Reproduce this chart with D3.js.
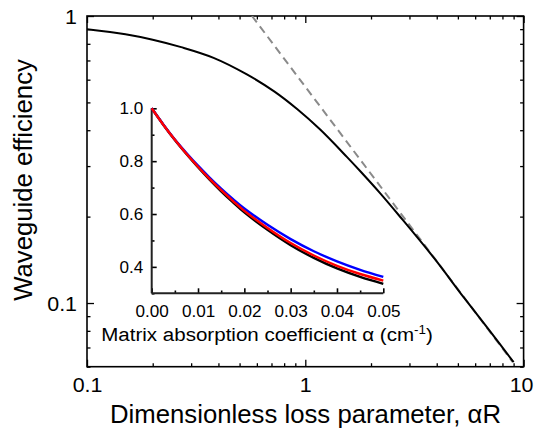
<!DOCTYPE html>
<html><head><meta charset="utf-8">
<script src="https://cdn.jsdelivr.net/npm/d3@7"></script>
<style>
html,body{margin:0;padding:0;background:#fff;}
svg{display:block;}
text{font-family:"Liberation Sans",Arial,sans-serif;fill:#000;}
</style></head>
<body>
<script>
// ---- Data ----
const mainX = [0.1, 0.15, 0.2, 0.27, 0.38, 0.54, 0.72, 0.92, 1.17, 1.55, 1.8, 2.2, 2.7, 3.9, 5.3, 7, 9];
const mainY = [0.90, 0.864, 0.827, 0.779, 0.715, 0.626, 0.546, 0.473, 0.402, 0.323, 0.286, 0.2415, 0.201, 0.143, 0.105, 0.080, 0.0622];
const asymX = [0.57, 8.9];
const asymY = [1.0, 0.0624];

const insetX = [0, 0.0025, 0.005, 0.0075, 0.01, 0.0125, 0.015, 0.0175, 0.02, 0.025, 0.03, 0.035, 0.04, 0.045, 0.05];
const insetBlack = [1.0, 0.938, 0.880, 0.827, 0.777, 0.730, 0.686, 0.645, 0.606, 0.540, 0.482, 0.434, 0.394, 0.362, 0.336];
const insetRed   = [1.0, 0.938, 0.881, 0.828, 0.779, 0.733, 0.690, 0.650, 0.612, 0.547, 0.490, 0.443, 0.404, 0.373, 0.348];
const insetBlue  = [1.0, 0.939, 0.882, 0.831, 0.783, 0.738, 0.696, 0.657, 0.621, 0.559, 0.505, 0.459, 0.421, 0.389, 0.362];

const xMajor = [0.1, 1, 10];
const xMinor = [0.2,0.3,0.4,0.5,0.6,0.7,0.8,0.9,2,3,4,5,6,7,8,9];
const yMajor = [0.1, 1];
const yMinor = [0.06,0.07,0.08,0.09,0.2,0.3,0.4,0.5,0.6,0.7,0.8,0.9];
const insetXMajor = [0, 0.01, 0.02, 0.03, 0.04, 0.05];
const insetXMinor = [0.005, 0.015, 0.025, 0.035, 0.045];
const insetYMajor = [0.4, 0.6, 0.8, 1.0];
const insetYMinor = [0.3, 0.5, 0.7, 0.9];

const xTitle = "Dimensionless loss parameter, \u03B1R";
const yTitle = "Waveguide efficiency";
const insetTitle = "Matrix absorption coefficient \u03B1 (cm";

// ---- Layout ----
const W = 534, H = 432;
const L = 87, R = 523.6, T = 16, B = 366.7;
const iL = 151.7, iR = 383.3, iT = 108.3, iB = 293.3;
const SX = 1.07;   // horizontal glyph stretch for tick labels
const SXT = 1.03;  // for titles

const svg = d3.select("body").append("svg").attr("width", W).attr("height", H);
svg.append("rect").attr("width", W).attr("height", H).attr("fill", "#fff");

const x = d3.scaleLog().domain([0.1, 10]).range([L, R]);
const y = d3.scaleLog().domain([0.06, 1]).range([B, T]);
const ix = d3.scaleLinear().domain([0, 0.05]).range([iL, iR]);
const iy = d3.scaleLinear().domain([0.3, 1.0]).range([iB, iT]);

function styleAxis(g, sw) {
  g.select(".domain").remove();
  g.selectAll(".tick line").attr("stroke", "#000").attr("stroke-width", sw);
}

const majLen = 7, minLen = 3.5;
function addAxis(axisFn, scale, vals, len, translate, fmt) {
  const a = axisFn(scale).tickValues(vals).tickSizeInner(-len).tickSizeOuter(0).tickFormat(fmt || "");
  const g = svg.append("g").attr("transform", translate).call(a);
  styleAxis(g, 1.3);
  return g;
}
const gxb = addAxis(d3.axisBottom, x, xMajor, majLen, `translate(0,${B})`, d => d >= 1 ? d3.format("d")(d) : d3.format(".1f")(d));
addAxis(d3.axisBottom, x, xMinor, minLen, `translate(0,${B})`);
addAxis(d3.axisTop, x, xMajor, majLen, `translate(0,${T})`);
addAxis(d3.axisTop, x, xMinor, minLen, `translate(0,${T})`);
const gyl = addAxis(d3.axisLeft, y, yMajor, majLen, `translate(${L},0)`, d => d >= 1 ? "1" : "0.1");
addAxis(d3.axisLeft, y, yMinor, minLen, `translate(${L},0)`);
addAxis(d3.axisRight, y, yMajor, majLen, `translate(${R},0)`);
addAxis(d3.axisRight, y, yMinor, minLen, `translate(${R},0)`);

gxb.selectAll("text").attr("font-size", 20).attr("y", 0).attr("dy", null)
  .attr("transform", d => `translate(${d >= 10 ? -2.5 : 0},25) scale(${SX},1)`).attr("font-family", null);
gyl.selectAll("text").attr("font-size", 20).attr("x", 0).attr("dy", "0.35em")
  .attr("transform", `translate(-10,0) scale(${SX},1)`).attr("font-family", null);

// frame
svg.append("rect").attr("x", L).attr("y", T).attr("width", R - L).attr("height", B - T)
  .attr("fill", "none").attr("stroke", "#000").attr("stroke-width", 1.6);

svg.append("clipPath").attr("id", "clipMain").append("rect")
  .attr("x", L).attr("y", T).attr("width", R - L).attr("height", B - T);
const plot = svg.append("g").attr("clip-path", "url(#clipMain)");

// asymptote dashed line
plot.append("path")
  .datum(asymX.map((v, i) => [v, asymY[i]]))
  .attr("d", d3.line().x(d => x(d[0])).y(d => y(d[1])))
  .attr("fill", "none").attr("stroke", "#8a8a8a").attr("stroke-width", 2)
  .attr("stroke-dasharray", "8,5");

// main curve
plot.append("path")
  .datum(mainX.map((v, i) => [v, mainY[i]]))
  .attr("d", d3.line().x(d => x(d[0])).y(d => y(d[1])).curve(d3.curveCatmullRom))
  .attr("fill", "none").attr("stroke", "#000").attr("stroke-width", 2);

// ---- inset ----
const inset = svg.append("g");
function addInsetAxis(axisFn, scale, vals, len, translate, fmt) {
  const a = axisFn(scale).tickValues(vals).tickSizeInner(-len).tickSizeOuter(0).tickFormat(fmt || "");
  const g = inset.append("g").attr("transform", translate).call(a);
  styleAxis(g, 1.6);
  return g;
}
const ixb = addInsetAxis(d3.axisBottom, ix, insetXMajor, 5, `translate(0,${iB})`, d3.format(".2f"));
addInsetAxis(d3.axisBottom, ix, insetXMinor, 2.8, `translate(0,${iB})`);
const iyl = addInsetAxis(d3.axisLeft, iy, insetYMajor, 5, `translate(${iL},0)`, d3.format(".1f"));
addInsetAxis(d3.axisLeft, iy, insetYMinor, 2.8, `translate(${iL},0)`);

ixb.selectAll("text").attr("font-size", 16).attr("y", 0).attr("dy", null)
  .attr("transform", `translate(0,23.4) scale(${SX},1)`).attr("font-family", null);
iyl.selectAll("text").attr("font-size", 16).attr("x", 0).attr("dy", "0.35em")
  .attr("transform", `translate(-8.4,0) scale(${SX},1)`).attr("font-family", null);

inset.append("line").attr("x1", iL).attr("x2", iL).attr("y1", iT).attr("y2", iB)
  .attr("stroke", "#222").attr("stroke-width", 2);
inset.append("line").attr("x1", iL).attr("x2", iR).attr("y1", iB).attr("y2", iB)
  .attr("stroke", "#222").attr("stroke-width", 2);

const iline = d3.line().x(d => ix(d[0])).y(d => iy(d[1])).curve(d3.curveCatmullRom);
[[insetBlack, "#000"], [insetBlue, "#0000ff"], [insetRed, "#ff0000"]].forEach(([ys, c]) => {
  inset.append("path").datum(insetX.map((v, i) => [v, ys[i]]))
    .attr("d", iline).attr("fill", "none").attr("stroke", c).attr("stroke-width", 2.4);
});

// ---- titles ----
function stretchedText(px, py, rot, size, sx) {
  return svg.append("text")
    .attr("transform", `translate(${px},${py}) rotate(${rot}) scale(${sx},1)`)
    .attr("text-anchor", "middle").attr("font-size", size);
}
stretchedText(305.5, 423, 0, 25, SXT).text(xTitle);
stretchedText(31.7, 180, -90, 25, SXT).text(yTitle);
const it = stretchedText(267, 340.7, 0, 19.2, SX);
it.append("tspan").text(insetTitle);
it.append("tspan").attr("dy", -7).attr("font-size", 12.5).text("-1");
it.append("tspan").attr("dy", 7).text(")");
</script>
</body></html>
